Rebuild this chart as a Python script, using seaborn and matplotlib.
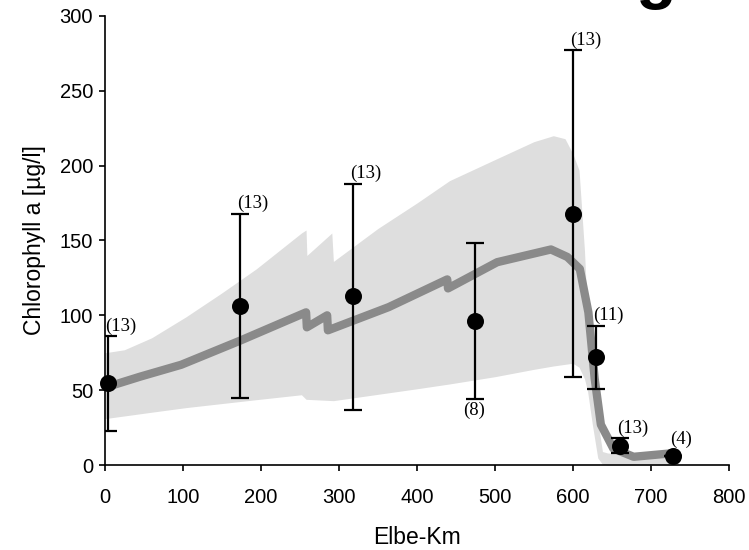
import numpy as np
import pandas as pd
import seaborn as sns
import matplotlib.pyplot as plt

# model run: mean line and min/max band along the river
km_line = [0, 8, 45, 98, 173, 258, 259, 285, 286, 364, 439, 440, 503, 572, 593, 609, 620, 628, 636, 652, 678, 726]
chl_line = [52, 53, 59, 67, 83, 102, 92, 100, 90, 105.5, 124, 118, 135.5, 144, 139, 131, 102, 58, 27, 11, 5.5, 7.8]

km_band = [0, 25, 60, 104, 150, 194, 252, 258, 259, 291, 293, 350, 400, 442, 500, 550, 575, 590, 600, 608, 615, 619, 625, 632, 638, 645, 700, 730]
band_hi = [75, 77, 85, 99, 115, 131, 155, 157, 140, 155, 136, 158, 175, 190, 204, 216, 220, 218, 208, 197, 143, 98, 64, 30, 9, 8, 7, 8]
km_low = [0, 98, 200, 253, 254, 293, 428, 500, 566, 600, 612, 620, 628, 633, 640, 730]
band_lo = [31, 38, 44, 47, 44, 43, 53, 59, 65.5, 68, 64, 47, 15.5, 2, 0, 0]

# measurements
km_obs = [4, 173, 318, 474, 600, 630, 661, 728]
chl_obs = [55, 106, 113, 96, 168, 72, 13, 6]
chl_top = [86, 168, 188, 148, 277, 93, 18, 6]
chl_bot = [23, 45, 37, 44, 59, 51, 8, 6]
n_obs = ['(13)', '(13)', '(13)', '(8)', '(13)', '(11)', '(13)', '(4)']

sns.set_style('ticks')
plt.rcParams['font.family'] = ['Liberation Sans', 'DejaVu Sans']
plt.rcParams['text.color'] = 'black'
plt.rcParams['axes.labelcolor'] = 'black'
plt.rcParams['xtick.color'] = 'black'
plt.rcParams['ytick.color'] = 'black'

fig = plt.figure(figsize=(7.49, 5.5), dpi=100)
ax = fig.add_axes([0.140, 0.1545, 0.833, 0.8165])

lo_interp = np.interp(km_band, km_low, band_lo)
ax.fill_between(km_band, lo_interp, band_hi, color='#dedede', linewidth=0, zorder=1)

line_df = pd.DataFrame({'km': km_line, 'chl': chl_line})
sns.lineplot(data=line_df, x='km', y='chl', color='#8a8a8a', linewidth=6, sort=False,
             solid_capstyle='round', solid_joinstyle='round', ax=ax, zorder=2)

obs = np.array(chl_obs)
yerr = [obs - np.array(chl_bot), np.array(chl_top) - obs]
ax.errorbar(km_obs, chl_obs, yerr=yerr, fmt='none', ecolor='black', elinewidth=1.6,
            capsize=6.5, capthick=1.6, zorder=3)
obs_df = pd.DataFrame({'km': km_obs, 'chl': chl_obs})
sns.scatterplot(data=obs_df, x='km', y='chl', color='black', s=150, edgecolor='black',
                linewidth=0, ax=ax, zorder=4, clip_on=False)

for i in range(len(km_obs)):
    if n_obs[i] == '(8)':
        ax.annotate(n_obs[i], (km_obs[i], chl_bot[i]), xytext=(0, -2), textcoords='offset points',
                    ha='center', va='top', family='Liberation Serif', fontsize=13.5)
    elif chl_top[i] == chl_obs[i]:
        ax.annotate(n_obs[i], (km_obs[i], chl_obs[i]), xytext=(-2, 6), textcoords='offset points',
                    ha='left', va='bottom', family='Liberation Serif', fontsize=13.5)
    else:
        ax.annotate(n_obs[i], (km_obs[i], chl_top[i]), xytext=(-2, 1), textcoords='offset points',
                    ha='left', va='bottom', family='Liberation Serif', fontsize=13.5)

ax.set_xlim(0, 800)
ax.set_ylim(0, 300)
ax.set_xticks(range(0, 801, 100))
ax.set_yticks(range(0, 301, 50))
ax.tick_params(labelsize=14.5, length=4.5, width=1.2, color='black')
ax.tick_params(axis='x', pad=12)
ax.tick_params(axis='y', pad=4)
for s in ['left', 'bottom']:
    ax.spines[s].set_linewidth(1.2)
    ax.spines[s].set_color('black')
sns.despine(ax=ax)
ax.set_xlabel('Elbe-Km', fontsize=16.5, labelpad=14)
ax.set_ylabel('Chlorophyll a [µg/l]', fontsize=16.5, labelpad=10)

# cut-off slide title at the top edge
fig.text(0.875, 1.008, 'g', fontsize=48, fontweight='bold', ha='center', va='baseline')

fig.savefig('out.png', dpi=100)
